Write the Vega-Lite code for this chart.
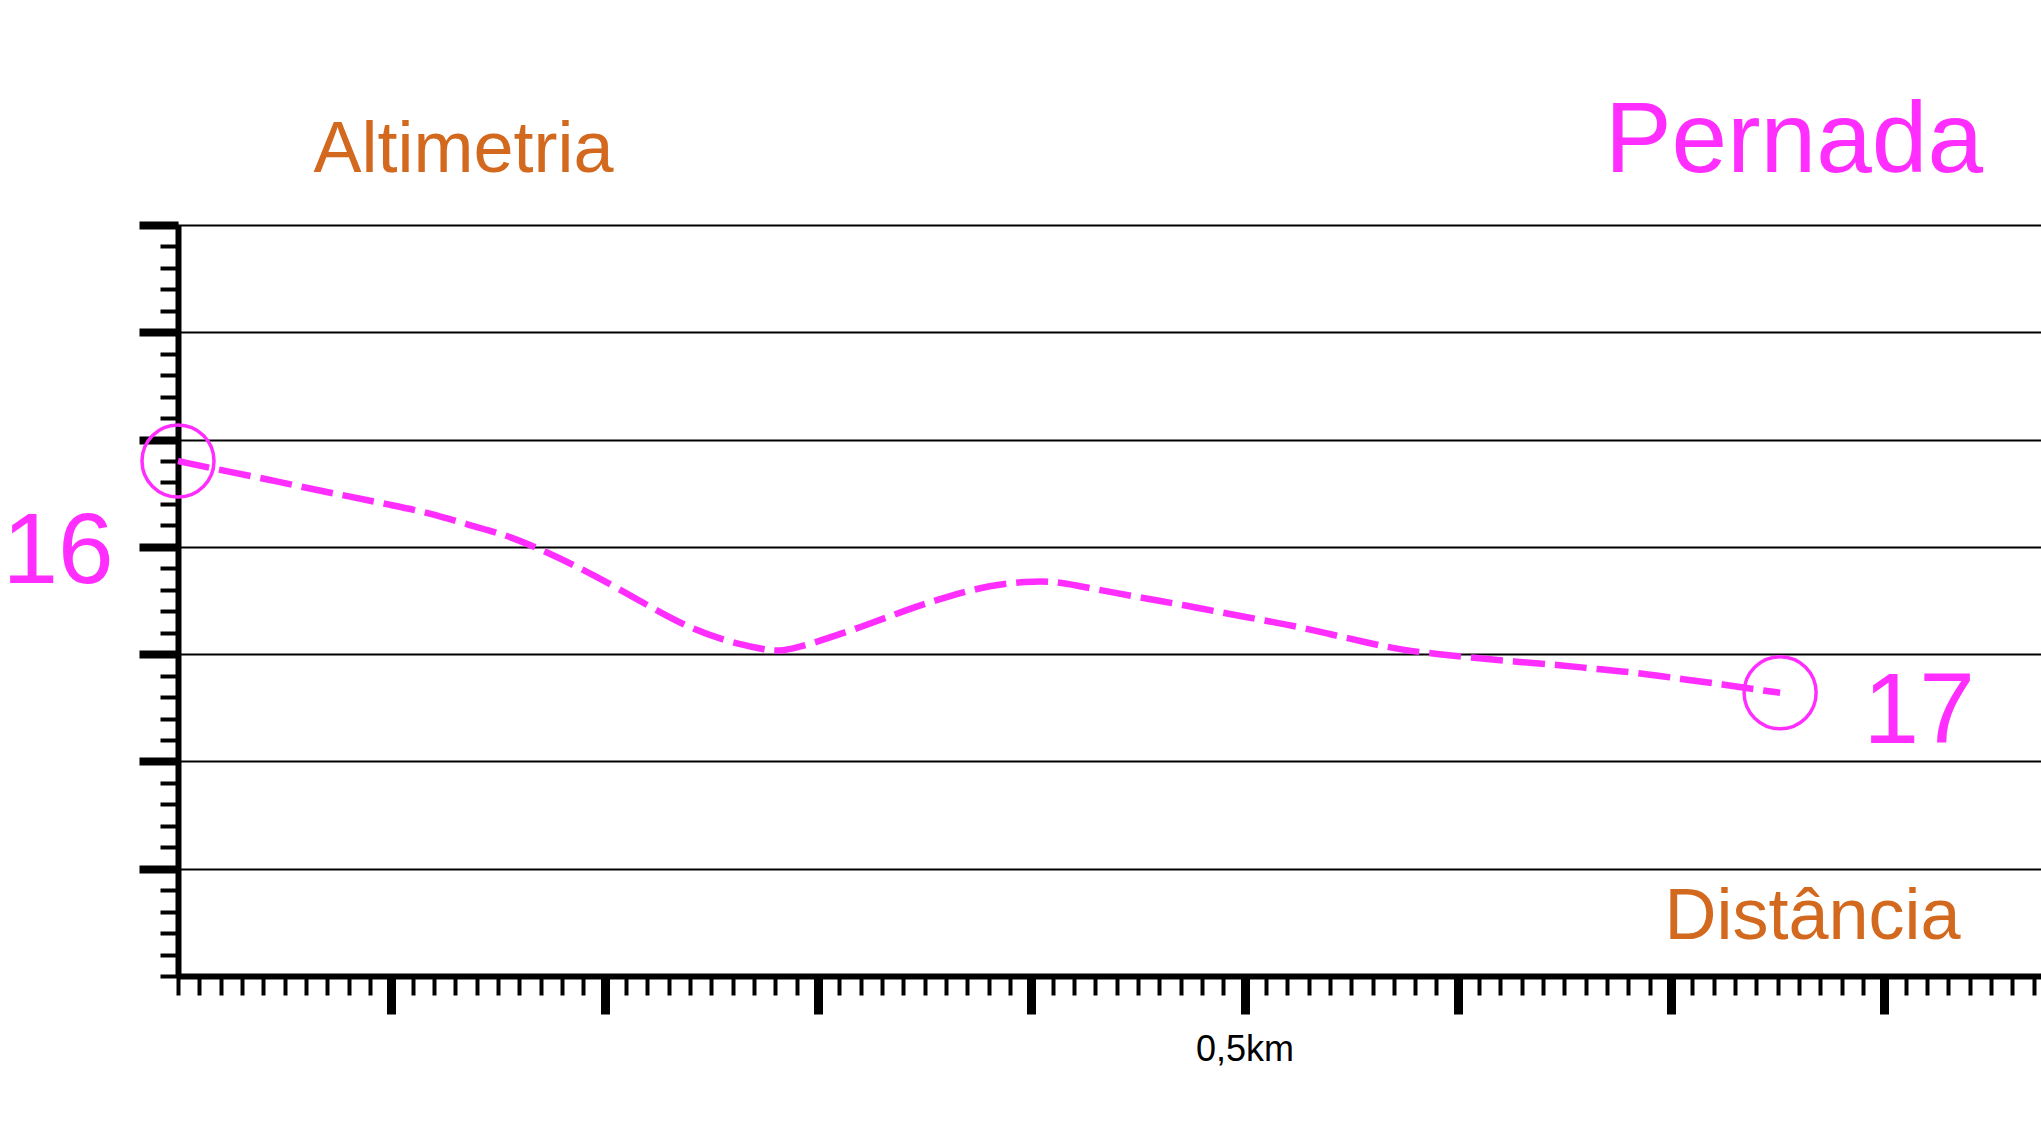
{
  "$schema": "https://vega.github.io/schema/vega-lite/v6.json",
  "width": 1863,
  "height": 751,
  "autosize": {"type": "none"},
  "padding": {"left": 178, "top": 225, "right": 0, "bottom": 149},
  "background": "white",
  "config": {"view": {"stroke": null}},
  "title": {"text": "Pernada", "anchor": "end", "frame": "group", "orient": "top", "font": "Liberation Sans", "fontSize": 100, "fontWeight": "normal", "color": "#FF2EFF", "baseline": "alphabetic", "offset": 0, "dx": -58, "dy": 159},
  "datasets": {
    "profile": [
      {"km": 0.0, "alt": 4.80},
      {"km": 0.0239, "alt": 4.70},
      {"km": 0.0436, "alt": 4.623},
      {"km": 0.0633, "alt": 4.536},
      {"km": 0.0811, "alt": 4.467},
      {"km": 0.0999, "alt": 4.39},
      {"km": 0.1186, "alt": 4.312},
      {"km": 0.1364, "alt": 4.203},
      {"km": 0.1541, "alt": 4.11},
      {"km": 0.1699, "alt": 3.977},
      {"km": 0.1857, "alt": 3.83},
      {"km": 0.2035, "alt": 3.644},
      {"km": 0.2213, "alt": 3.442},
      {"km": 0.237, "alt": 3.271},
      {"km": 0.2548, "alt": 3.131},
      {"km": 0.2726, "alt": 3.054},
      {"km": 0.2825, "alt": 3.013},
      {"km": 0.300, "alt": 3.116},
      {"km": 0.3216, "alt": 3.262},
      {"km": 0.3413, "alt": 3.411},
      {"km": 0.3612, "alt": 3.541},
      {"km": 0.3809, "alt": 3.644},
      {"km": 0.3987, "alt": 3.678},
      {"km": 0.4085, "alt": 3.681},
      {"km": 0.4204, "alt": 3.644},
      {"km": 0.4401, "alt": 3.567},
      {"km": 0.4599, "alt": 3.498},
      {"km": 0.4796, "alt": 3.427},
      {"km": 0.4993, "alt": 3.349},
      {"km": 0.519, "alt": 3.281},
      {"km": 0.5387, "alt": 3.194},
      {"km": 0.5586, "alt": 3.101},
      {"km": 0.5743, "alt": 3.038},
      {"km": 0.5902, "alt": 3.001},
      {"km": 0.6071, "alt": 2.966},
      {"km": 0.6276, "alt": 2.929},
      {"km": 0.6479, "alt": 2.898},
      {"km": 0.6667, "alt": 2.858},
      {"km": 0.6868, "alt": 2.821},
      {"km": 0.7056, "alt": 2.765},
      {"km": 0.7243, "alt": 2.719},
      {"km": 0.7417, "alt": 2.665},
      {"km": 0.7511, "alt": 2.64}
    ],
    "ends": [
      {"km": 0.0, "alt": 4.80, "label": "16"},
      {"km": 0.7511, "alt": 2.64, "label": "17"}
    ]
  },
  "layer": [
    {
      "data": {"name": "profile"},
      "mark": {"type": "line", "color": "#FF2EFF", "strokeWidth": 6.5, "strokeDash": [32, 10], "interpolate": "basis"},
      "encoding": {
        "x": {
          "field": "km", "type": "quantitative",
          "scale": {"domain": [0, 0.8734], "nice": false, "zero": false},
          "axis": {
            "orient": "bottom", "values": [0.1, 0.2, 0.3, 0.4, 0.5, 0.6, 0.7, 0.8],
            "tickSize": 38, "tickWidth": 9, "tickColor": "#000",
            "domainColor": "#000", "domainWidth": 6, "grid": false,
            "labelExpr": "abs(datum.value - 0.5) < 0.001 ? '0,5km' : ''",
            "labelFont": "Liberation Sans", "labelFontSize": 36, "labelColor": "#000",
            "labelPadding": 18, "labelOverlap": false, "labelFlush": false,
            "title": "Distância", "titleFont": "Liberation Sans", "titleFontSize": 72, "titleFontWeight": "normal",
            "titleColor": "#D2691E", "titleAlign": "left", "titleBaseline": "alphabetic",
            "titleX": 1486, "titleY": -38
          }
        },
        "y": {
          "field": "alt", "type": "quantitative",
          "scale": {"domain": [0, 7], "nice": false, "zero": false},
          "axis": {
            "orient": "left", "values": [1, 2, 3, 4, 5, 6, 7],
            "tickSize": 39, "tickWidth": 8, "tickColor": "#000",
            "grid": true, "gridColor": "#000", "gridWidth": 2, "gridOpacity": 1,
            "domainColor": "#000", "domainWidth": 6, "labels": false,
            "title": "Altimetria", "titleFont": "Liberation Sans", "titleFontSize": 72, "titleFontWeight": "normal",
            "titleColor": "#D2691E", "titleAngle": 0, "titleAlign": "left", "titleBaseline": "alphabetic",
            "titleX": 135, "titleY": -54
          }
        }
      }
    },
    {
      "data": {"name": "ends"},
      "mark": {"type": "point", "shape": "circle", "filled": false, "size": 5184, "stroke": "#FF2EFF", "strokeWidth": 3.5, "opacity": 1},
      "encoding": {
        "x": {
          "field": "km", "type": "quantitative",
          "scale": {"domain": [0, 0.8734], "nice": false, "zero": false},
          "axis": {"orient": "bottom", "tickCount": 100, "tickSize": 19, "tickWidth": 4, "tickColor": "#000", "domain": false, "labels": false, "grid": false, "title": null}
        },
        "y": {
          "field": "alt", "type": "quantitative",
          "scale": {"domain": [0, 7], "nice": false, "zero": false},
          "axis": {"orient": "left", "tickCount": 35, "tickSize": 18, "tickWidth": 4, "tickColor": "#000", "domain": false, "labels": false, "grid": false, "title": null}
        }
      }
    },
    {
      "data": {"name": "ends"},
      "transform": [{"filter": {"field": "label", "equal": "16"}}],
      "mark": {"type": "text", "font": "Liberation Sans", "fontSize": 100, "color": "#FF2EFF", "align": "center", "baseline": "alphabetic", "dx": -120, "dy": 122},
      "encoding": {
        "x": {"field": "km", "type": "quantitative", "axis": null},
        "y": {"field": "alt", "type": "quantitative", "axis": null},
        "text": {"field": "label"}
      }
    },
    {
      "data": {"name": "ends"},
      "transform": [{"filter": {"field": "label", "equal": "17"}}],
      "mark": {"type": "text", "font": "Liberation Sans", "fontSize": 100, "color": "#FF2EFF", "align": "center", "baseline": "alphabetic", "dx": 139, "dy": 50},
      "encoding": {
        "x": {"field": "km", "type": "quantitative", "axis": null},
        "y": {"field": "alt", "type": "quantitative", "axis": null},
        "text": {"field": "label"}
      }
    }
  ],
  "resolve": {"axis": {"x": "independent", "y": "independent"}}
}
